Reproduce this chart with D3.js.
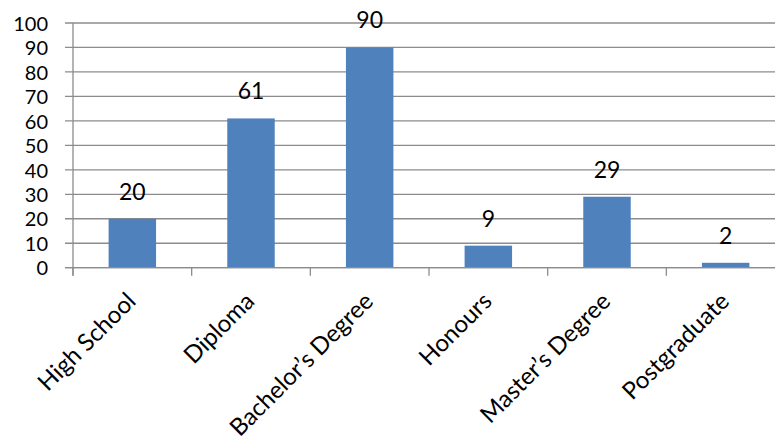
<!DOCTYPE html>
<html>
<head>
<meta charset="utf-8">
<script src="https://cdn.jsdelivr.net/npm/d3@7"></script>
<style>
  html, body { margin: 0; padding: 0; background: #fff; }
  svg { display: block; }
  text { font-family: Lato, "Open Sans", sans-serif; fill: #000; }
</style>
</head>
<body>
<svg id="chart" width="775" height="441"></svg>
<script>
// Qualification levels and respondent counts
const categories = ["High School", "Diploma", "Bachelor\u2019s Degree", "Honours", "Master\u2019s Degree", "Postgraduate"];
const counts = [20, 61, 90, 9, 29, 2];
const yTicks = [0, 10, 20, 30, 40, 50, 60, 70, 80, 90, 100];

const svg = d3.select("#chart");
const plotLeft = 73, plotRight = 785, plotTop = 23, plotBottom = 267.7;

const x = d3.scaleBand().domain(categories).range([plotLeft, plotRight])
  .paddingInner(0.6).paddingOuter(0.3);
const y = d3.scaleLinear().domain([0, 100]).range([plotBottom, plotTop]);

const gridColor = "#8c8c8c";

// horizontal gridlines
svg.append("g").selectAll("line").data(yTicks).join("line")
  .attr("x1", plotLeft - 8).attr("x2", plotRight)
  .attr("y1", d => y(d)).attr("y2", d => y(d))
  .attr("stroke", gridColor).attr("stroke-width", 1.3);

// y axis labels
const yAxis = d3.axisLeft(y).tickValues(yTicks).tickSize(0).tickPadding(0);
const yg = svg.append("g").attr("transform", `translate(${plotLeft - 25},0)`).call(yAxis);
yg.select(".domain").remove();
yg.selectAll("text").attr("font-size", 20).attr("font-family", "Lato").attr("fill", "#000").attr("dy", "0.36em");

// bars
svg.append("g").selectAll("rect").data(counts).join("rect")
  .attr("x", (d, i) => x(categories[i]))
  .attr("width", x.bandwidth())
  .attr("y", d => y(d))
  .attr("height", d => y(0) - y(d))
  .attr("fill", "#4f81bd");

// axis lines
svg.append("line").attr("x1", plotLeft).attr("x2", plotLeft).attr("y1", plotTop).attr("y2", plotBottom + 8)
  .attr("stroke", gridColor).attr("stroke-width", 1.3);
svg.append("line").attr("x1", plotLeft - 8).attr("x2", plotRight).attr("y1", plotBottom).attr("y2", plotBottom)
  .attr("stroke", gridColor).attr("stroke-width", 1.3);

// category separators on x axis
const step = x.step();
svg.append("g").selectAll("line").data(d3.range(categories.length + 1)).join("line")
  .attr("x1", i => plotLeft + i * step).attr("x2", i => plotLeft + i * step)
  .attr("y1", plotBottom).attr("y2", plotBottom + 8)
  .attr("stroke", gridColor).attr("stroke-width", 1.3);

// value labels
svg.append("g").selectAll("text").data(counts).join("text")
  .attr("x", (d, i) => x(categories[i]) + x.bandwidth() / 2)
  .attr("y", d => y(d) - 19)
  .attr("text-anchor", "middle")
  .attr("font-size", 23)
  .text(d => d);

// rotated category labels
svg.append("g").selectAll("text").data(categories).join("text")
  .attr("transform", d => `translate(${x(d) + x.bandwidth() / 2 + 5},${plotBottom + 35}) rotate(-45)`)
  .attr("text-anchor", "end")
  .attr("font-size", 24)
  .text(d => d);
</script>
</body>
</html>
